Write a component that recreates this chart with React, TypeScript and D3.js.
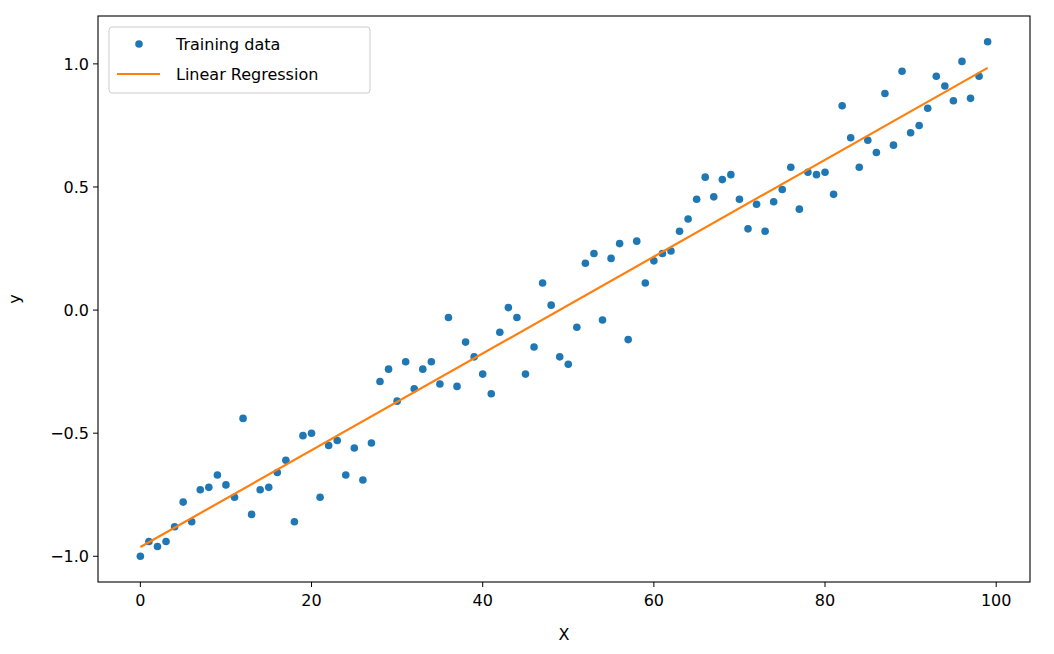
import React from "react";
import * as d3 from "d3";

const xs: number[] = Array.from({ length: 100 }, (_, i) => i);
const ys: number[] = [
  -1.0, -0.94, -0.96, -0.94, -0.88, -0.78, -0.86, -0.73, -0.72, -0.67,
  -0.71, -0.76, -0.44, -0.83, -0.73, -0.72, -0.66, -0.61, -0.86, -0.51,
  -0.5, -0.76, -0.55, -0.53, -0.67, -0.56, -0.69, -0.54, -0.29, -0.24,
  -0.37, -0.21, -0.32, -0.24, -0.21, -0.3, -0.03, -0.31, -0.13, -0.19,
  -0.26, -0.34, -0.09, 0.01, -0.03, -0.26, -0.15, 0.11, 0.02, -0.19,
  -0.22, -0.07, 0.19, 0.23, -0.04, 0.21, 0.27, -0.12, 0.28, 0.11,
  0.2, 0.23, 0.24, 0.32, 0.37, 0.45, 0.54, 0.46, 0.53, 0.55,
  0.45, 0.33, 0.43, 0.32, 0.44, 0.49, 0.58, 0.41, 0.56, 0.55,
  0.56, 0.47, 0.83, 0.7, 0.58, 0.69, 0.64, 0.88, 0.67, 0.97,
  0.72, 0.75, 0.82, 0.95, 0.91, 0.85, 1.01, 0.86, 0.95, 1.09,
];
const xTicks = [0, 20, 40, 60, 80, 100];
const yTicks = [-1.0, -0.5, 0.0, 0.5, 1.0];

const L = 98, R = 1030, T = 16, B = 582;
const font = "DejaVu Sans, sans-serif";
const fs = 16;

export default function App() {
  const x = d3.scaleLinear().domain([-4.95, 103.95]).range([L, R]);
  const y = d3.scaleLinear().domain([-1.1045, 1.1945]).range([B, T]);
  const mx = d3.mean(xs)!, my = d3.mean(ys)!;
  const slope = d3.sum(xs, (v, i) => (v - mx) * (ys[i] - my)) / d3.sum(xs, (v) => (v - mx) ** 2);
  const icpt = my - slope * mx;
  const line = d3.line<number>().x((v) => x(v)).y((v) => y(icpt + slope * v));
  const fmt = (v: number) => v.toFixed(1).replace("-", "\u2212");
  return (
    <svg width={1054} height={654} style={{ position: "absolute", left: 0, top: 0, background: "#fff" }} fontFamily={font}>
      {xs.map((v, i) => (
        <circle key={i} cx={x(v)} cy={y(ys[i])} r={3.8} fill="#1f77b4" />
      ))}
      <path d={line([0, 99]) || ""} stroke="#ff7f0e" strokeWidth={2.2} fill="none" />
      <rect x={L} y={T} width={R - L} height={B - T} fill="none" stroke="#000" strokeWidth={1.1} />
      {xTicks.map((t) => (
        <g key={t}>
          <line x1={x(t)} x2={x(t)} y1={B} y2={B + 5} stroke="#000" />
          <text x={x(t)} y={B + 24} textAnchor="middle" fontSize={fs}>{t}</text>
        </g>
      ))}
      {yTicks.map((t) => (
        <g key={t}>
          <line x1={L - 5} x2={L} y1={y(t)} y2={y(t)} stroke="#000" />
          <text x={L - 9} y={y(t) + 6} textAnchor="end" fontSize={fs}>{fmt(t)}</text>
        </g>
      ))}
      <text x={(L + R) / 2} y={640} textAnchor="middle" fontSize={fs}>X</text>
      <text transform={`translate(20,${(T + B) / 2}) rotate(-90)`} textAnchor="middle" fontSize={fs}>y</text>
      <rect x={109} y={27} width={261} height={66} rx={3} fill="#fff" fillOpacity={0.8} stroke="#ccc" />
      <circle cx={139} cy={44} r={3.8} fill="#1f77b4" />
      <text x={176} y={50} fontSize={fs}>Training data</text>
      <line x1={117} x2={160} y1={74} y2={74} stroke="#ff7f0e" strokeWidth={2.2} />
      <text x={176} y={80} fontSize={fs}>Linear Regression</text>
    </svg>
  );
}
